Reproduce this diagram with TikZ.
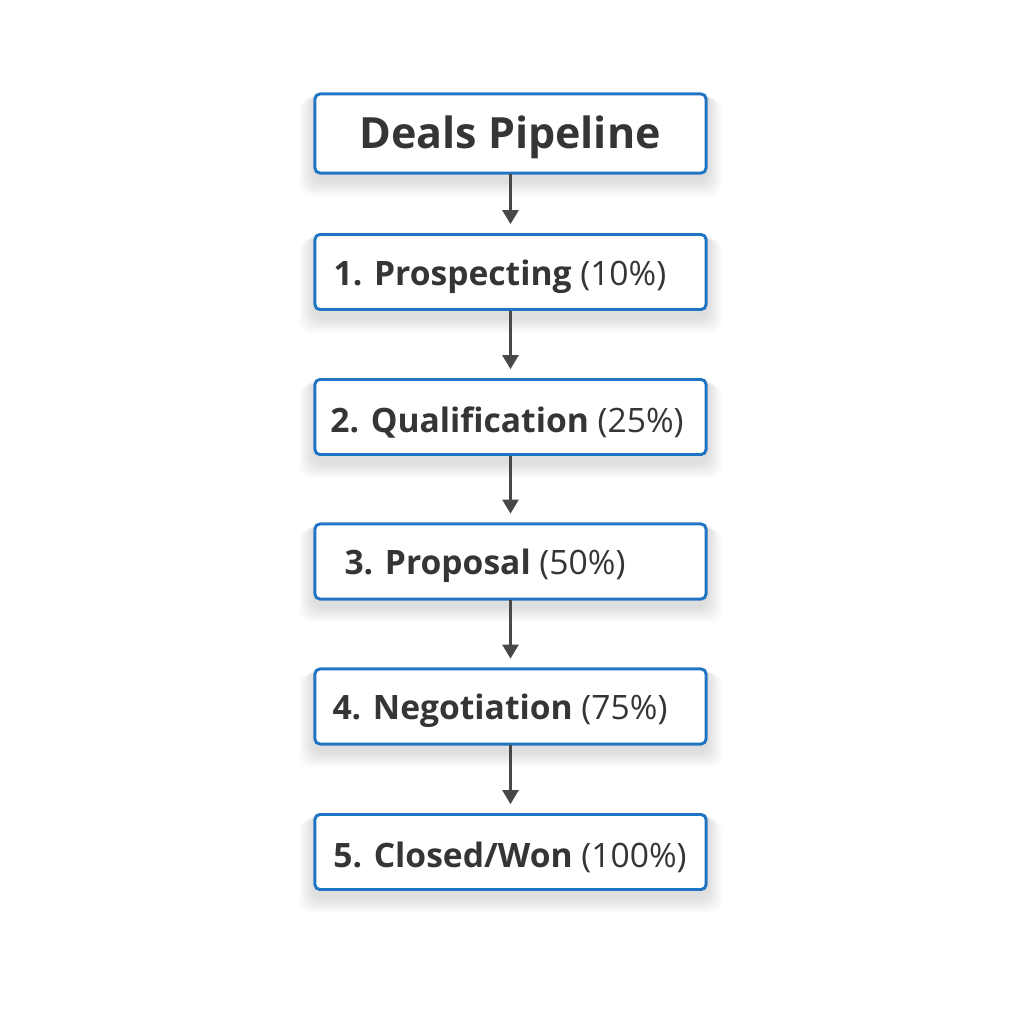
\documentclass[tikz,border=0pt]{standalone}
\usepackage{fontspec}
\setmainfont{Open Sans}
\usetikzlibrary{arrows.meta}
\definecolor{boxblue}{HTML}{1F74C4}
\definecolor{txt}{HTML}{353535}
\definecolor{arr}{HTML}{484848}
\tikzset{
  stage/.style={draw=boxblue, line width=1.4pt, rounded corners=2.5pt, fill=white,
    minimum width=195.5pt, minimum height=37.5pt, inner sep=0pt},
  titlebox/.style={stage, minimum height=39.5pt},
  lbl/.style={text=txt, font=\fontsize{16.8}{20}\selectfont, inner sep=0pt},
  flow/.style={draw=arr, line width=1.3pt, -{Triangle[width=8pt,length=7pt]}, shorten >=4.5pt},
}
\newcommand{\softshadow}[1]{%
  \foreach \k in {1,...,8}{%
    \fill[black, opacity=0.016, rounded corners=6pt]
      ([xshift=-\k*0.9pt, yshift=-3pt-\k*1pt]#1.south west) rectangle ([xshift=\k*0.9pt, yshift=1pt-\k*0.5pt]#1.north east);
  }%
}
\begin{document}
\begin{tikzpicture}[x=0.5pt,y=-0.5pt]
\useasboundingbox[fill=white] (0,0) rectangle (1024,1024);
\path (510.5,133.5) node[titlebox] (t) {}
      (510.5,272) node[stage] (s1) {}
      (510.5,417) node[stage] (s2) {}
      (510.5,561.5) node[stage] (s3) {}
      (510.5,706.5) node[stage] (s4) {}
      (510.5,852) node[stage] (s5) {};
\foreach \n in {t,s1,s2,s3,s4,s5}{\softshadow{\n}}
\path (510.5,133.5) node[titlebox] (t) {}
      (510.5,272) node[stage] (s1) {}
      (510.5,417) node[stage] (s2) {}
      (510.5,561.5) node[stage] (s3) {}
      (510.5,706.5) node[stage] (s4) {}
      (510.5,852) node[stage] (s5) {};
\node[lbl, font=\fontsize{21.5}{25}\selectfont\bfseries] (tl) at (510,137) {Deals Pipeline};
\node[lbl] (l1) at (500,277) {\textbf{1. Prospecting} (10\%)};
\node[lbl] (l2) at (507,422) {\textbf{2. Qualification} (25\%)};
\node[lbl] (l3) at (485,566) {\textbf{3. Proposal} (50\%)};
\node[lbl] (l4) at (500,711) {\textbf{4. Negotiation} (75\%)};
\node[lbl] (l5) at (510,857) {\textbf{5. Closed/Won} (100\%)};
\draw[flow] (t.south) -- (s1.north);
\draw[flow] (s1.south) -- (s2.north);
\draw[flow] (s2.south) -- (s3.north);
\draw[flow] (s3.south) -- (s4.north);
\draw[flow] (s4.south) -- (s5.north);
\end{tikzpicture}
\end{document}
